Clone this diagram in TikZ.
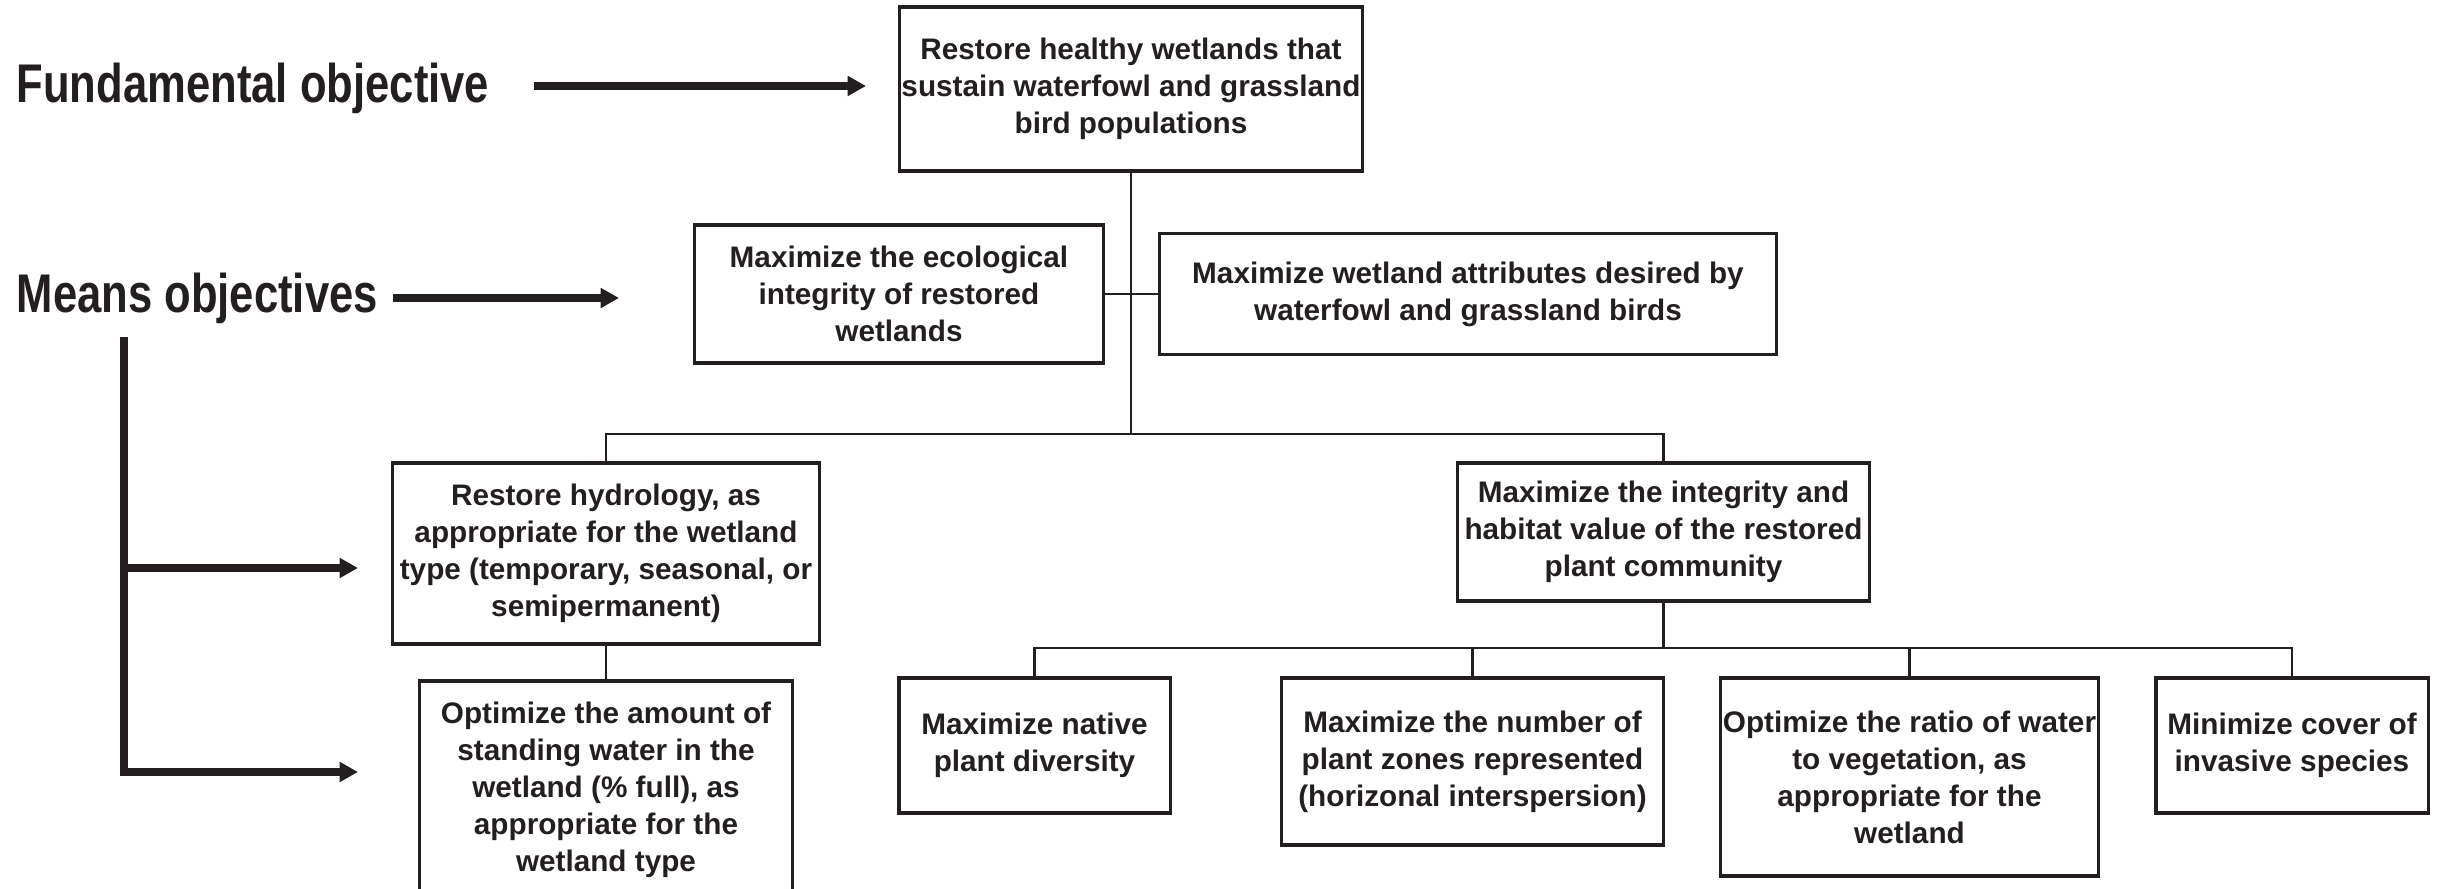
\documentclass[tikz,border=0pt]{standalone}
\usepackage{fontspec}
\setmainfont{Liberation Sans}
\newfontfamily\headfont{Liberation Sans}[FakeStretch=0.8]
\usetikzlibrary{arrows.meta}
\definecolor{ink}{RGB}{35,31,32}
\begin{document}
\begin{tikzpicture}[
  x=0.01cm, y=-0.01cm,
  every node/.style={text=ink},
  objbox/.style={draw=ink, line width=0.9pt, align=center, inner sep=0pt,
    font=\bfseries\fontsize{8.45}{10.5}\selectfont},
  heading/.style={anchor=base west, inner sep=0pt,
    font=\headfont\bfseries\fontsize{15.5}{18}\selectfont},
  link/.style={draw=ink, line width=0.8pt},
  bigarrow/.style={draw=ink, line width=2.1pt, line join=miter,
    -{Triangle[length=5.2pt,width=5.4pt]}}
]
\useasboundingbox (0,0) rectangle (2438,889);
\clip (0,0) rectangle (2438,889);

% left-hand labels
\node[heading] (fund) at (16,103) {Fundamental objective};
\node[heading] (means) at (16,313) {Means objectives};

% objective boxes
\node[objbox, minimum width=4.62cm, minimum height=1.64cm] (top) at (1131,89)
  {Restore healthy wetlands that\\sustain waterfowl and grassland\\bird populations};
\node[objbox, minimum width=4.08cm, minimum height=1.38cm] (eco) at (899,294)
  {Maximize the ecological\\integrity of restored\\wetlands};
\node[objbox, minimum width=6.16cm, minimum height=1.21cm] (attr) at (1468,294)
  {Maximize wetland attributes desired by\\waterfowl and grassland birds};
\node[objbox, minimum width=4.26cm, minimum height=1.81cm] (hydro) at (606,553.5)
  {Restore hydrology, as\\appropriate for the wetland\\type (temporary, seasonal, or\\semipermanent)};
\node[objbox, minimum width=4.11cm, minimum height=1.38cm] (plant) at (1663.5,532)
  {Maximize the integrity and\\habitat value of the restored\\plant community};
\node[objbox, minimum width=3.73cm, minimum height=2.18cm] (stand) at (606,790)
  {Optimize the amount of\\standing water in the\\wetland (\% full), as\\appropriate for the\\wetland type};
\node[objbox, minimum width=2.71cm, minimum height=1.35cm] (native) at (1034.5,745.5)
  {Maximize native\\plant diversity};
\node[objbox, minimum width=3.81cm, minimum height=1.67cm] (zones) at (1472.5,761.5)
  {Maximize the number of\\plant zones represented\\(horizonal interspersion)};
\node[objbox, minimum width=3.77cm, minimum height=1.98cm] (ratio) at (1909.5,777)
  {Optimize the ratio of water\\to vegetation, as\\appropriate for the\\wetland};
\node[objbox, minimum width=2.72cm, minimum height=1.35cm] (invas) at (2292,745.5)
  {Minimize cover of\\invasive species};

% junction points of the tree
\coordinate (busA) at (1131,434);
\coordinate (busB) at (1663.5,648);

% tree connectors
\draw[link] (top.south) -- (busA);
\draw[link] (eco.east) -- (attr.west);
\draw[link] (hydro.north) -- (hydro.north |- busA) -- (plant.north |- busA) -- (plant.north);
\draw[link] (hydro.south) -- (stand.north);
\draw[link] (plant.south) -- (busB);
\draw[link] (native.north) -- (native.north |- busB) -- (invas.north |- busB) -- (invas.north);
\draw[link] (zones.north) -- (zones.north |- busB);
\draw[link] (ratio.north) -- (ratio.north |- busB);

% pointer arrows
\coordinate (fundA) at (534,86);
\coordinate (fundB) at (866,86);
\coordinate (meansA) at (393,298);
\coordinate (meansB) at (619,298);
\coordinate (stem) at (124,337);
\coordinate (tipH) at (358,568);
\coordinate (tipS) at (358,772);

\draw[bigarrow] (fundA) -- (fundB);
\draw[bigarrow] (meansA) -- (meansB);
\draw[bigarrow] (stem) |- (tipS);
\draw[bigarrow] (stem |- tipH) -- (tipH);
\end{tikzpicture}
\end{document}
